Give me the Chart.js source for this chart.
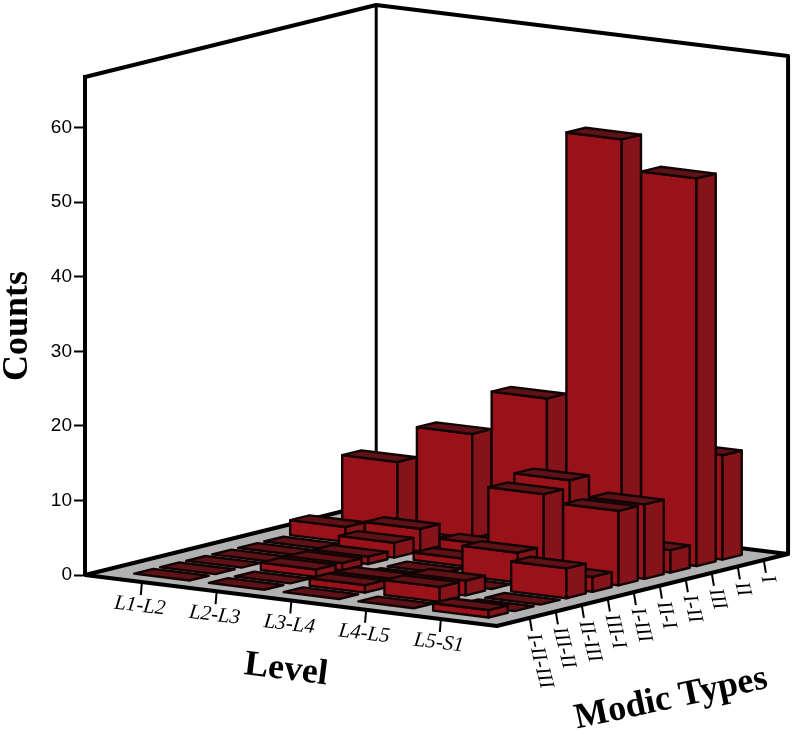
<!DOCTYPE html>
<html><head><meta charset="utf-8">
<style>html,body{margin:0;padding:0;background:#fff}canvas{display:block}</style>
<script src="https://cdn.jsdelivr.net/npm/chart.js@4/dist/chart.umd.min.js"></script>
</head><body><canvas id="c" width="797" height="735"></canvas>
<script>
const levels = ['L1-L2','L2-L3','L3-L4','L4-L5','L5-S1'];
const modicTypes = ['I-II-III','III-II','II-III','III-I','I-III','II-I','I-II','III','II','I'];
const countTicks = [0,10,20,30,40,50,60];
const countsI_II_III = [0,0,0,0,1];
const countsIII_II   = [0,0,1,2,0];
const countsII_III   = [0,1,1,2,0];
const countsIII_I    = [0,1,0,0,4];
const countsI_III    = [0,1,0,4,2];
const countsII_I     = [0,2,1,11,10];
const countsI_II     = [2,3,2,12,10];
const countsIII      = [0,0,0,0,3];
const countsII       = [9,14,20,56,52];
const countsI        = [0,0,0,0,14];
const seriesByType = [countsI_II_III,countsIII_II,countsII_III,countsIII_I,countsI_III,countsII_I,countsI_II,countsIII,countsII,countsI];

// oblique projection of the floor (screen pixels per category step)
const EX = {x:74.75, y:9.25};   // one level step
const EY = {x:26, y:-6.43};     // one modic-type step
const FLOOR_DEPTH = 11.2, FLOOR_WIDTH = 5.51;
const LEVEL_OFFSET = 0.26, TYPE_TICK_OFFSET = 1.27, TYPE_BAR_OFFSET = 1.14, HALF = 0.37;
const C_FRONT='#9a1219', C_SIDE='#84141a', C_TOP='#5e1216', C_FLOOR='#b2b2b2', C_EDGE='#120404';

function origin(chart){ return {x:chart.scales.x.left, y:chart.scales.y.getPixelForValue(0)}; }
function floorAt(chart,a,b,h){
  const o=origin(chart);
  return {x:o.x+a*EX.x+b*EY.x, y:o.y+a*EX.y+b*EY.y-(h||0)};
}
function levelPos(chart,i){
  const x=chart.scales.x, step=x.getPixelForValue(1)-x.getPixelForValue(0);
  return (x.getPixelForValue(i)-x.left)/step+LEVEL_OFFSET;
}
function poly(ctx,pts,fill,lw){
  ctx.beginPath();
  pts.forEach((p,k)=>k?ctx.lineTo(p.x,p.y):ctx.moveTo(p.x,p.y));
  ctx.closePath();
  if(fill){ctx.fillStyle=fill;ctx.fill();}
  ctx.lineWidth=lw;ctx.strokeStyle=C_EDGE;ctx.lineJoin='round';ctx.stroke();
}

class Bar3DController extends Chart.BarController {
  draw(){
    const meta=this.getMeta(), chart=this.chart, ctx=chart.ctx, y=meta.yScale;
    const j=meta.index, b=j+TYPE_BAR_OFFSET;
    const zero=y.getPixelForValue(0);
    for(let i=0;i<meta.data.length;i++){
      const v=this.getParsed(i).y;
      const h=zero-y.getPixelForValue(v);
      const a=levelPos(chart,i);
      const P=(da,db,hh)=>floorAt(chart,a+da*HALF,b+db*HALF,hh);
      ctx.save();
      if(h>0){
        poly(ctx,[P(-1,-1,0),P(1,-1,0),P(1,-1,h),P(-1,-1,h)],C_FRONT,2.4);
        poly(ctx,[P(1,-1,0),P(1,1,0),P(1,1,h),P(1,-1,h)],C_SIDE,2.4);
      }
      poly(ctx,[P(-1,-1,h),P(1,-1,h),P(1,1,h),P(-1,1,h)],C_TOP,2.4);
      ctx.restore();
    }
  }
}
Bar3DController.id='bar3d';
Bar3DController.defaults=Chart.BarController.defaults;
Chart.register(Bar3DController);

const rotatedText=(ctx,text,x,y,deg,font,align)=>{
  ctx.save();ctx.translate(x,y);ctx.rotate(deg*Math.PI/180);
  ctx.font=font;ctx.fillStyle='#000';ctx.textAlign=align||'center';ctx.textBaseline='middle';
  ctx.fillText(text,0,0);ctx.restore();
};

const frame3d={
  id:'frame3d',
  beforeDatasetsDraw(chart){
    const ctx=chart.ctx, o=origin(chart);
    const L=floorAt(chart,0,0), F=floorAt(chart,FLOOR_WIDTH,0),
          R=floorAt(chart,FLOOR_WIDTH,FLOOR_DEPTH), B=floorAt(chart,0,FLOOR_DEPTH);
    const wall=o.y-chart.scales.y.top;
    ctx.save();
    ctx.lineCap='round';ctx.lineJoin='round';ctx.strokeStyle='#000';
    // walls
    ctx.lineWidth=4;
    ctx.beginPath();
    ctx.moveTo(L.x,L.y-wall);ctx.lineTo(B.x,B.y-wall);ctx.lineTo(R.x,R.y-wall);ctx.lineTo(R.x,R.y);
    ctx.stroke();
    ctx.lineWidth=3;
    ctx.beginPath();ctx.moveTo(B.x,B.y-wall);ctx.lineTo(B.x,B.y);ctx.stroke();
    // floor
    ctx.beginPath();ctx.moveTo(L.x,L.y);ctx.lineTo(F.x,F.y);ctx.lineTo(R.x,R.y);ctx.lineTo(B.x,B.y);ctx.closePath();
    ctx.fillStyle=C_FLOOR;ctx.fill();
    ctx.lineWidth=4;
    ctx.beginPath();ctx.moveTo(B.x,B.y);ctx.lineTo(L.x,L.y);ctx.lineTo(F.x,F.y);ctx.lineTo(R.x,R.y);ctx.lineTo(B.x,B.y);ctx.stroke();
    // level ticks and labels
    ctx.lineWidth=2;ctx.lineCap='butt';
    levels.forEach((t,i)=>{
      const p=floorAt(chart,levelPos(chart,i),0);
      ctx.beginPath();ctx.moveTo(p.x,p.y+1);ctx.lineTo(p.x-1,p.y+13);ctx.stroke();
      rotatedText(ctx,t,p.x-2,p.y+24,7,'italic 21px "Liberation Serif"');
    });
    modicTypes.forEach((t,j)=>{
      const p=floorAt(chart,FLOOR_WIDTH,j+TYPE_TICK_OFFSET);
      ctx.beginPath();ctx.moveTo(p.x,p.y+1);ctx.lineTo(p.x+2,p.y+13);ctx.stroke();
      rotatedText(ctx,t,p.x+3,p.y+16,76,'italic 21px "Liberation Serif"','left');
    });
    rotatedText(ctx,'Level',286,670,7,'bold 36px "Liberation Serif"');
    rotatedText(ctx,'Modic Types',671,699,-12,'bold 36px "Liberation Serif"');
    ctx.restore();
  }
};

new Chart(document.getElementById('c'),{
  type:'bar3d',
  data:{
    labels:levels,
    datasets:modicTypes.map((t,j)=>({label:t,data:seriesByType[j],clip:false}))
  },
  options:{
    responsive:false,animation:false,devicePixelRatio:1,
    layout:{padding:{left:0,top:77,bottom:160,right:338.25}},
    plugins:{legend:{display:false},tooltip:{enabled:false},title:{display:false}},
    scales:{
      x:{type:'category',display:false,offset:true},
      y:{
        type:'linear',min:0,max:66.8,
        afterFit(s){s.width=85;},
        afterBuildTicks(s){s.ticks=countTicks.map(v=>({value:v}));},
        ticks:{stepSize:10,includeBounds:false,color:'#000',padding:2,font:{family:'"Liberation Sans"',size:19}},
        grid:{drawOnChartArea:false,drawTicks:true,tickLength:11,tickColor:'#000',tickWidth:2},
        border:{display:true,width:4,color:'#000'},
        title:{display:true,text:'Counts',color:'#000',padding:0,font:{family:'"Liberation Serif"',weight:'bold',size:36,lineHeight:1}}
      }
    }
  },
  plugins:[frame3d]
});
</script></body></html>
